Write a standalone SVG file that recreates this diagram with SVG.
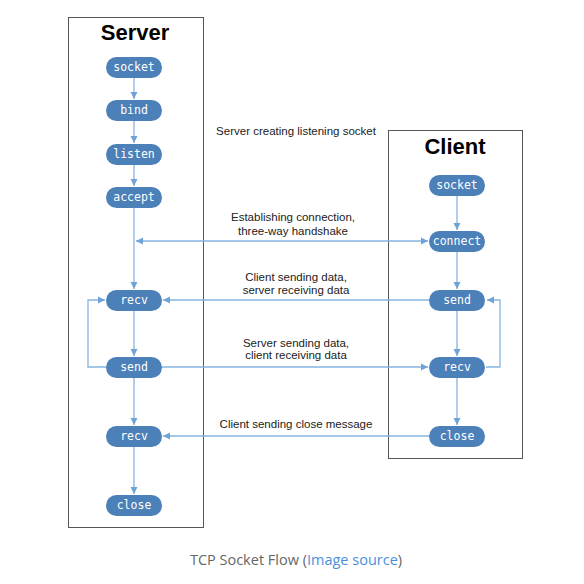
<svg xmlns="http://www.w3.org/2000/svg" width="584" height="584" viewBox="0 0 584 584">
<style>
.box{fill:none;stroke:#555;stroke-width:1}
.nd rect{fill:#4b80b8}
.nd text{fill:#fff;font-family:"DejaVu Sans Mono",monospace;font-size:11.5px;text-anchor:middle}
.title{font-family:"Liberation Sans",Arial,sans-serif;font-weight:bold;font-size:22px;text-anchor:middle;fill:#000}
.lbl{font-family:"Liberation Sans",Arial,sans-serif;font-size:11.5px;text-anchor:middle;fill:#222}
.ln{fill:none;stroke:#86b4e0;stroke-width:1.3}
.cap{font-family:"Open Sans",sans-serif;font-size:14.5px;text-anchor:middle;fill:#666}
</style>
<defs>
<marker id="ah" markerWidth="8" markerHeight="8" refX="7" refY="4" orient="auto-start-reverse" markerUnits="userSpaceOnUse">
<path d="M0,0.5 L7,4 L0,7.5 Z" fill="#6fa3d8"/>
</marker>
</defs>
<rect width="584" height="584" fill="#fff"/>
<rect class="box" x="68.5" y="17.5" width="135" height="510"/>
<rect class="box" x="388.5" y="130.5" width="134" height="328"/>
<text class="title" x="135" y="40">Server</text>
<text class="title" x="455" y="154">Client</text>
<g id="connectors">
<line class="ln" x1="134" y1="78" x2="134" y2="99" marker-end="url(#ah)"/>
<line class="ln" x1="134" y1="121" x2="134" y2="143" marker-end="url(#ah)"/>
<line class="ln" x1="134" y1="165" x2="134" y2="186" marker-end="url(#ah)"/>
<line class="ln" x1="134" y1="208" x2="134" y2="289" marker-end="url(#ah)"/>
<line class="ln" x1="134" y1="311" x2="134" y2="356" marker-end="url(#ah)"/>
<line class="ln" x1="134" y1="378" x2="134" y2="425" marker-end="url(#ah)"/>
<line class="ln" x1="134" y1="447" x2="134" y2="494" marker-end="url(#ah)"/>
<line class="ln" x1="457" y1="196" x2="457" y2="230" marker-end="url(#ah)"/>
<line class="ln" x1="457" y1="252" x2="457" y2="289" marker-end="url(#ah)"/>
<line class="ln" x1="457" y1="311" x2="457" y2="356" marker-end="url(#ah)"/>
<line class="ln" x1="457" y1="378" x2="457" y2="425" marker-end="url(#ah)"/>
<line class="ln" x1="136" y1="241" x2="428" y2="241" marker-start="url(#ah)" marker-end="url(#ah)"/>
<line class="ln" x1="429" y1="300" x2="163" y2="300" marker-end="url(#ah)"/>
<line class="ln" x1="162" y1="367" x2="428" y2="367" marker-end="url(#ah)"/>
<line class="ln" x1="429" y1="436" x2="163" y2="436" marker-end="url(#ah)"/>
<polyline class="ln" points="106,367 88,367 88,300 105,300" marker-end="url(#ah)"/>
<polyline class="ln" points="486,367 500,367 500,300 487,300" marker-end="url(#ah)"/>
</g>
<g id="s-socket" class="nd"><rect x="106" y="57" width="56" height="21" rx="10.5"/><text x="134" y="71">socket</text></g>
<g id="s-bind" class="nd"><rect x="106" y="100" width="56" height="21" rx="10.5"/><text x="134" y="114">bind</text></g>
<g id="s-listen" class="nd"><rect x="106" y="144" width="56" height="21" rx="10.5"/><text x="134" y="158">listen</text></g>
<g id="s-accept" class="nd"><rect x="106" y="187" width="56" height="21" rx="10.5"/><text x="134" y="201">accept</text></g>
<g id="s-recv" class="nd"><rect x="106" y="290" width="56" height="21" rx="10.5"/><text x="134" y="304">recv</text></g>
<g id="s-send" class="nd"><rect x="106" y="357" width="56" height="21" rx="10.5"/><text x="134" y="371">send</text></g>
<g id="s-recv2" class="nd"><rect x="106" y="426" width="56" height="21" rx="10.5"/><text x="134" y="440">recv</text></g>
<g id="s-close" class="nd"><rect x="106" y="495" width="56" height="21" rx="10.5"/><text x="134" y="509">close</text></g>
<g id="c-socket" class="nd"><rect x="429" y="175" width="56" height="21" rx="10.5"/><text x="457" y="189">socket</text></g>
<g id="c-connect" class="nd"><rect x="429" y="231" width="56" height="21" rx="10.5"/><text x="457" y="245">connect</text></g>
<g id="c-send" class="nd"><rect x="429" y="290" width="56" height="21" rx="10.5"/><text x="457" y="304">send</text></g>
<g id="c-recv" class="nd"><rect x="429" y="357" width="56" height="21" rx="10.5"/><text x="457" y="371">recv</text></g>
<g id="c-close" class="nd"><rect x="429" y="426" width="56" height="21" rx="10.5"/><text x="457" y="440">close</text></g>
<g id="labels">
<text class="lbl" x="296" y="135">Server creating listening socket</text>
<text class="lbl" x="293" y="221">Establishing connection,</text>
<text class="lbl" x="293" y="235">three-way handshake</text>
<text class="lbl" x="296" y="281">Client sending data,</text>
<text class="lbl" x="296" y="294">server receiving data</text>
<text class="lbl" x="296" y="347">Server sending data,</text>
<text class="lbl" x="296" y="359">client receiving data</text>
<text class="lbl" x="296" y="428">Client sending close message</text>
</g>
<text class="cap" x="296" y="565">TCP Socket Flow (<tspan fill="#4a90d9">Image source</tspan>)</text>
</svg>
